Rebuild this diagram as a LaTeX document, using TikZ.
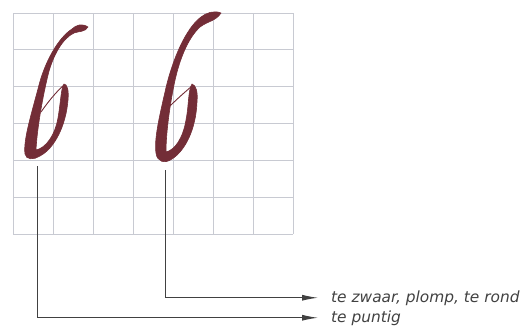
\documentclass[tikz,border=0pt]{standalone}
\usepackage{fontspec}
\setsansfont{DejaVu Sans}
\usetikzlibrary{arrows.meta, positioning}
\definecolor{inkred}{RGB}{115,45,55}
\definecolor{gridgray}{RGB}{200,202,210}
\definecolor{leadgray}{RGB}{65,65,65}
\tikzset{
    every node/.style={inner sep=0pt},
    gridline/.style={gridgray, line width=0.9pt},
    glyph/.style={fill=inkred, draw=inkred, line width=0.6pt, line join=round},
    hair/.style={inkred, line width=0.9pt},
    arr/.style={leadgray, line width=1pt, -{Latex[length=16pt, width=6pt]}},
    lbl/.style={anchor=base west, text=leadgray,
        font=\fontsize{15.4}{18}\selectfont\sffamily\itshape}
}

\begin{document}
\begin{tikzpicture}[x=1pt, y=-1pt]
    \useasboundingbox (0,0) rectangle (531,327);

    % grid
    \foreach \i in {0,...,7}
        \draw[gridline] (13+40*\i,13) -- (13+40*\i,234);
    \foreach \j in {0,...,6}
        \draw[gridline] (13,13+36.83*\j) -- (293,13+36.83*\j);

    % the pointed six
    \filldraw[glyph] (88,27) .. controls (82,23) and (76,25) .. (72,29)
        .. controls (58,38) and (45,62) .. (39,85)
        .. controls (32,112) and (23,140) .. (25,154)
        .. controls (26,160) and (34,160) .. (40,156)
        .. controls (55,148) and (66,125) .. (68,100)
        .. controls (69,90) and (67,84) .. (64,84)
        .. controls (61,88) and (61,100) .. (58,118)
        .. controls (55,135) and (46,148) .. (36,150)
        .. controls (37,130) and (42,100) .. (48,75)
        .. controls (53,55) and (63,38) .. (74,33)
        .. controls (80,31) and (85,32) .. (88,27) -- cycle;
    \draw[hair] (64,85) .. controls (56,92) and (48,102) .. (41,112);

    % the heavy six
    \filldraw[glyph] (221,13) .. controls (214,10) and (206,13) .. (201,17)
        .. controls (186,28) and (172,60) .. (165,92)
        .. controls (159,118) and (154,140) .. (156,153)
        .. controls (157,162) and (165,164) .. (172,159)
        .. controls (186,150) and (196,128) .. (197,102)
        .. controls (198,92) and (196,85) .. (192,84)
        .. controls (188,90) and (189,105) .. (186,120)
        .. controls (183,138) and (175,150) .. (166,152)
        .. controls (166,135) and (169,110) .. (174,85)
        .. controls (179,60) and (188,38) .. (200,27)
        .. controls (208,21) and (216,21) .. (221,13) -- cycle;
    \draw[hair] (192,86) .. controls (185,92) and (177,99) .. (170,106);

    % labels
    \node[lbl] (zwaar) at (331,302) {te zwaar, plomp, te rond};
    \node[lbl] (puntig) at (331,322) {te puntig};

    \coordinate (tipA) at (37,166);
    \coordinate (tipB) at (165,170);

    \draw[arr] (tipB) |- ([xshift=-13pt]zwaar.west);
    \draw[arr] (tipA) |- ([xshift=-13pt]puntig.west);
\end{tikzpicture}
\end{document}
